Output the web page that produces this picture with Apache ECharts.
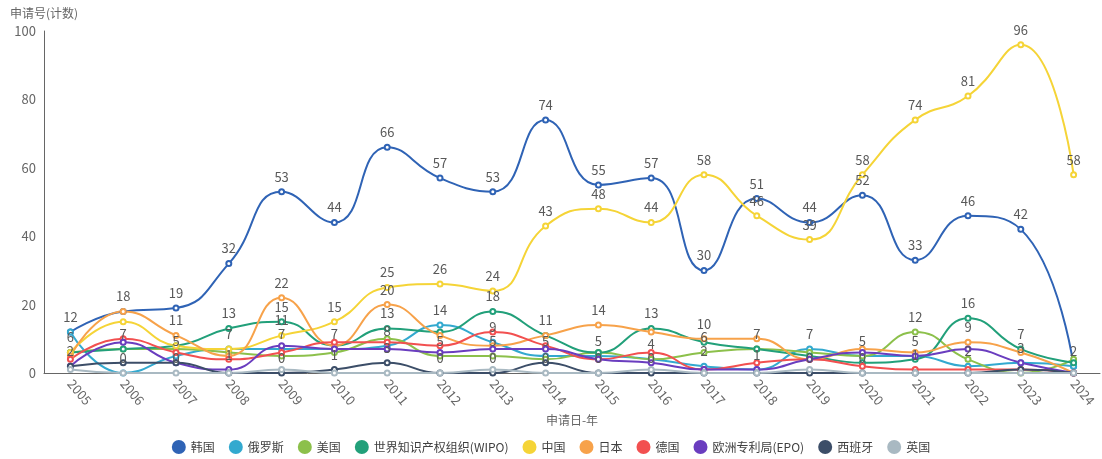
<!DOCTYPE html>
<html>
<head>
<meta charset="utf-8">
<script src="https://cdn.jsdelivr.net/npm/echarts@6/dist/echarts.min.js"></script>
<style>
  html, body { margin: 0; padding: 0; background: #fff; }
  #main { width: 1102px; height: 459px; }
</style>
</head>
<body>
<div id="main"></div>
<script>
// years on the x axis
var years = ['2005','2006','2007','2008','2009','2010','2011','2012','2013','2014',
             '2015','2016','2017','2018','2019','2020','2021','2022','2023','2024'];

// application counts per office
var korea  = [12,18,19,32,53,44,66,57,53,74,55,57,30,51,44,52,33,46,42,2];
var russia = [12,0,5,7,7,7,8,14,9,5,5,4,2,1,7,5,5,2,3,2];
var usa    = [6,7,7,6,5,6,10,5,5,4,6,4,6,7,6,5,12,4,0,4];
var wipo   = [6,7,8,13,15,8,13,12,18,11,6,13,9,7,5,3,4,16,7,3];
var china  = [6,15,8,7,11,15,25,26,24,43,48,44,58,46,39,58,74,81,96,58];
var japan  = [5,18,11,5,22,8,20,11,8,11,14,12,10,10,4,7,6,9,6,0];
var germany= [4,10,6,4,6,9,9,8,12,8,4,6,1,3,4,2,1,1,1,0];
var epo    = [2,9,3,1,8,7,7,6,7,7,4,3,1,1,4,6,5,7,3,0];
var spain  = [2,3,3,0,0,1,3,0,0,3,0,0,0,0,0,0,0,0,1,0];
var uk     = [1,0,0,0,1,0,0,0,1,0,0,1,0,0,1,0,0,0,0,0];

var names  = ['韩国','俄罗斯','美国','世界知识产权组织(WIPO)','中国','日本','德国','欧洲专利局(EPO)','西班牙','英国'];
var values = [korea, russia, usa, wipo, china, japan, germany, epo, spain, uk];
var colors = ['#2f63b5','#33a9cf','#8cc04b','#22a07a','#f5d437','#f7a24a','#f25050','#6a3dbf','#3c4e68','#a9b9c2'];

var chartDom = document.getElementById('main');
var myChart = echarts.init(chartDom);
var option;

var seriesList = names.map(function (n, i) {
  return {
    name: n,
    type: 'line',
    smooth: true,
    symbol: 'emptyCircle',
    symbolSize: 5,
    lineStyle: { width: 2 },
    label: {
      show: true,
      position: 'top',
      color: '#595959',
      fontSize: 13
    },
    labelLayout: { hideOverlap: true },
    data: values[i]
  };
});

option = {
  color: colors,
  animation: false,
  textStyle: { fontFamily: 'Noto Sans CJK SC, sans-serif' },
  grid: {
    left: 44,
    right: 2,
    top: 31,
    bottom: 86,
    containLabel: false
  },
  legend: {
    data: names,
    bottom: 0,
    left: 'center',
    icon: 'circle',
    itemWidth: 14,
    itemHeight: 14,
    itemGap: 14,
    textStyle: { color: '#404040', fontSize: 12 }
  },
  xAxis: {
    type: 'category',
    data: years,
    name: '申请日-年',
    nameLocation: 'middle',
    nameGap: 40,
    nameTextStyle: { color: '#666', fontSize: 12 },
    axisLine: { lineStyle: { color: '#666' } },
    axisTick: { show: false },
    axisLabel: { rotate: -50, color: '#666', fontSize: 13, margin: 8 }
  },
  yAxis: {
    type: 'value',
    min: 0,
    max: 100,
    interval: 20,
    name: '申请号(计数)',
    nameLocation: 'end',
    nameGap: 12,
    nameTextStyle: { color: '#666', fontSize: 12 },
    axisLine: { show: true, lineStyle: { color: '#666' } },
    axisTick: { show: false },
    splitLine: { show: false },
    axisLabel: { color: '#666', fontSize: 13, margin: 8 }
  },
  series: seriesList
};

option && myChart.setOption(option);
</script>
</body>
</html>
